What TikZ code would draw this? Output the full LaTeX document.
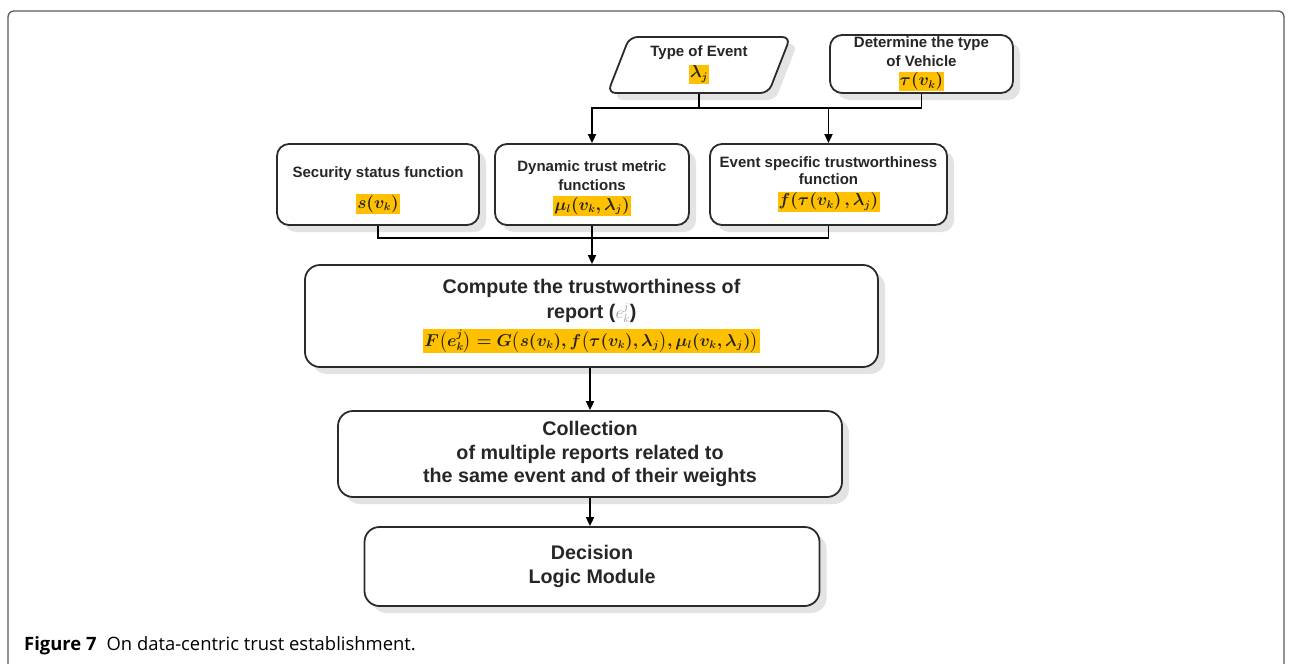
\documentclass[tikz,border=0pt]{standalone}
\usepackage{amsmath}
\usepackage{bm}
\usepackage{fontspec}
\setmainfont{Liberation Sans}
\newfontfamily\capfont{Open Sans}
\usetikzlibrary{shapes.geometric,shadows,arrows.meta}
\definecolor{hl}{HTML}{FFC000}
\definecolor{txt}{HTML}{262626}
\definecolor{boxc}{HTML}{2B2B2B}
\definecolor{framec}{HTML}{5A5A5A}
\newcommand{\hlm}[1]{{\setlength{\fboxsep}{1.2pt}\colorbox{hl}{\fontsize{16}{19}\selectfont$\bm{#1}$}}}
\tikzset{
  box/.style={draw=boxc, line width=1.8pt, rounded corners=12pt, fill=white,
    drop shadow={shadow xshift=7pt,shadow yshift=-7pt,fill=black!11,opacity=1},
    align=center, text=txt, inner sep=0pt,
    font=\fontsize{15}{19}\selectfont\bfseries},
  bigbox/.style={box, rounded corners=15pt, font=\fontsize{19.7}{23.5}\selectfont\bfseries},
  conn/.style={line width=1.8pt, draw=black},
  arr/.style={conn, -{Triangle[length=9pt,width=8pt]}},
}
\begin{document}
\begin{tikzpicture}[x=1pt,y=-1pt]
\useasboundingbox (0,0) rectangle (1294,664);
% outer frame
\draw[framec, line width=1.3pt, rounded corners=6pt] (8,680) -- (8,11) -- (1284,11) -- (1284,680);

\node[box, trapezium, trapezium left angle=68, trapezium right angle=112,
  trapezium stretches=true, rounded corners=8pt,
  minimum width=183pt, minimum height=56pt] (event) at (699,65)
  {Type of Event\\[2pt]\hlm{\lambda_j}};
\node[box, minimum width=183pt, minimum height=58pt] (veh) at (921.5,64)
  {Determine the type\\of Vehicle\\\hlm{\tau(v_k)}};

\node[box, minimum width=202pt, minimum height=81pt] (sec) at (378,184.5)
  {\rule{0pt}{22pt}Security status function\\[12pt]\hlm{s(v_k)}};
\node[box, minimum width=194pt, minimum height=81pt] (dyn) at (592,184.5)
  {\rule{0pt}{18pt}Dynamic trust metric\\functions\\[1pt]\hlm{\mu_l(v_k,\lambda_j)}};
\node[box, minimum width=237pt, minimum height=81pt] (evs) at (828.5,184.5)
  {Event specific trustworthiness\\[-2pt]function\\[2pt]\hlm{f(\tau(v_k)\,,\lambda_j)}};

\node[bigbox, minimum width=573pt, minimum height=102pt] (comp) at (591.5,316)
  {Compute the trustworthiness of\\[2pt]report ({\color{gray!80}\mdseries\fontsize{16}{19}\selectfont$e^{j}_{k}$})\\[4pt]
   {\setlength{\fboxsep}{1.2pt}\colorbox{hl}{\fontsize{16}{19}\selectfont$\bm{F\big(e^{j}_{k}\big)=G\big(s(v_k),f\big(\tau(v_k),\lambda_j\big),\mu_l(v_k,\lambda_j)\big)}$}}};

\node[bigbox, minimum width=504pt, minimum height=86pt] (coll) at (590,454)
  {Collection\\of multiple reports related to\\the same event and of their weights};
\node[bigbox, minimum width=455pt, minimum height=79pt] (dec) at (592,566.5)
  {Decision\\Logic Module};

% connectors
\coordinate (b1) at (0,108);
\coordinate (b2) at (0,238);
\draw[conn] (event.south |- b1) -- (evs.north |- b1);
\draw[arr] (event.south) |- (dyn.north |- b1) -- (dyn.north);
\draw[arr] (veh.south) |- (evs.north |- b1) -- (evs.north);
\draw[conn] (sec.south) |- (evs.south |- b2) -- (evs.south);
\draw[arr] (dyn.south) -- (comp.north -| dyn.south);
\draw[arr] (comp.south -| coll.north) -- (coll.north);
\draw[arr] (coll.south) -- (dec.north -| coll.south);

\node[anchor=base west, inner sep=0pt, font=\capfont\fontsize{18.4}{21}\selectfont, text=black] (cap) at (24,650)
  {\textbf{Figure 7}\hspace{0.55em}On data-centric trust establishment.};
\end{tikzpicture}
\end{document}
